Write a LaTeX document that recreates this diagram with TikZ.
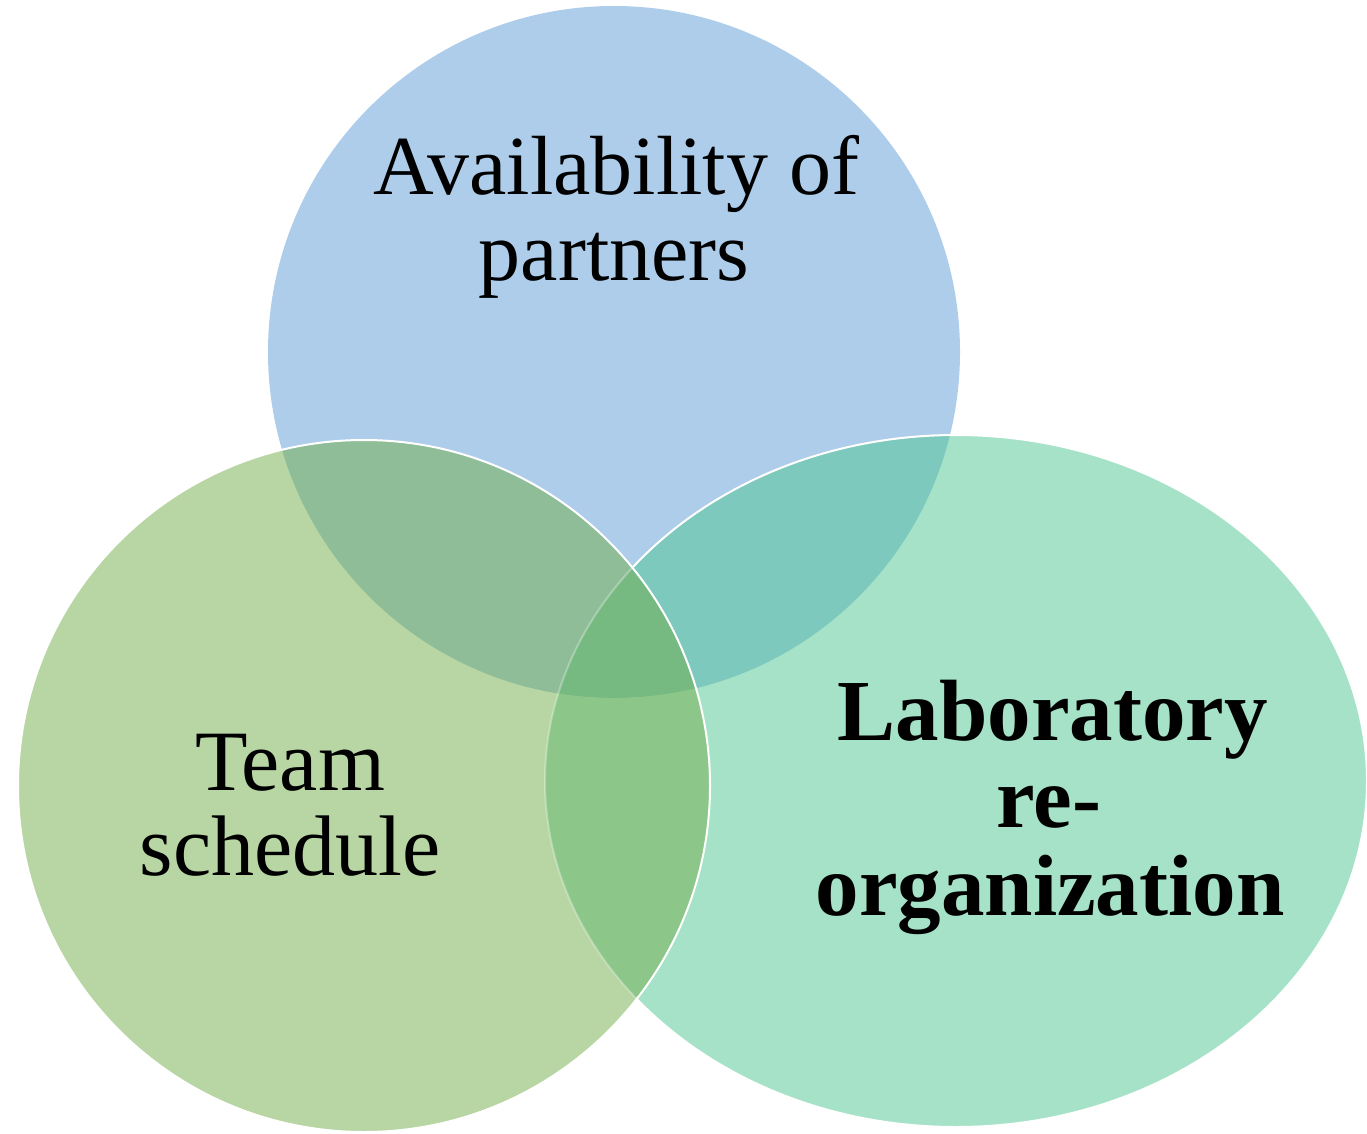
\documentclass[tikz,border=0pt]{standalone}
\usepackage{fontspec}
\setmainfont{Liberation Serif}
\definecolor{cblue}{HTML}{AECDEB}
\definecolor{cteal}{HTML}{A6E2C8}
\definecolor{cgreen}{HTML}{B8D6A4}
\definecolor{cbg}{HTML}{8FBD97}
\definecolor{cbt}{HTML}{7EC9BD}
\definecolor{cgt}{HTML}{8CC689}
\definecolor{cbgt}{HTML}{76BA81}
\begin{document}
\begin{tikzpicture}[x=1pt,y=-1pt,
  lbl/.style={anchor=base, inner sep=0pt, font=\fontsize{84}{84}\selectfont},
  lblt/.style={anchor=base, inner sep=0pt, font=\fontsize{86}{86}\selectfont},
  lblb/.style={anchor=base, inner sep=0pt, font=\fontsize{87}{87}\selectfont\bfseries},
  rim/.style={draw=white, line width=2pt}]
\path[use as bounding box] (0,0) rectangle (1367,1134);
% base fills
\fill[cblue] (614,352) circle[radius=346];
\fill[cteal] (956,781) ellipse[x radius=411, y radius=346];
\fill[cgreen] (364,786) circle[radius=346];
% blue & teal
\begin{scope}
  \clip (614,352) circle[radius=346];
  \fill[cbt] (956,781) ellipse[x radius=411, y radius=346];
  \fill[cbg] (364,786) circle[radius=346];
  \clip (956,781) ellipse[x radius=411, y radius=346];
  \fill[cbgt] (364,786) circle[radius=346];
\end{scope}
% teal & green (outside blue)
\begin{scope}
  \clip (956,781) ellipse[x radius=411, y radius=346];
  \clip (364,786) circle[radius=346];
  \path[fill=cgt, even odd rule] (-10,-10) rectangle (1400,1150) (614,352) circle[radius=346];
\end{scope}
% outlines
\begin{scope}[even odd rule]
  \clip (-10,-10) rectangle (1400,1150) (364,786) circle[radius=346];
  \draw[rim] (956,781) ellipse[x radius=411, y radius=346];
\end{scope}
\begin{scope}
  \clip (364,786) circle[radius=346];
  \draw[draw=white, draw opacity=0.3, line width=2pt] (956,781) ellipse[x radius=411, y radius=346];
\end{scope}
\draw[rim] (364,786) circle[radius=346];
% labels
\node[lbl] (a1) at (616,195) {Availability of};
\node[lbl] (a2) at (614,280) {partners};
\node[lblt] (t1) at (290,790) {Team};
\node[lblt] (t2) at (290,875) {schedule};
\node[lblb] (l1) at (1053,740) {Laboratory};
\node[lblb] (l2) at (1049,827) {re-};
\node[lblb] (l3) at (1050,915) {organization};
\end{tikzpicture}
\end{document}
